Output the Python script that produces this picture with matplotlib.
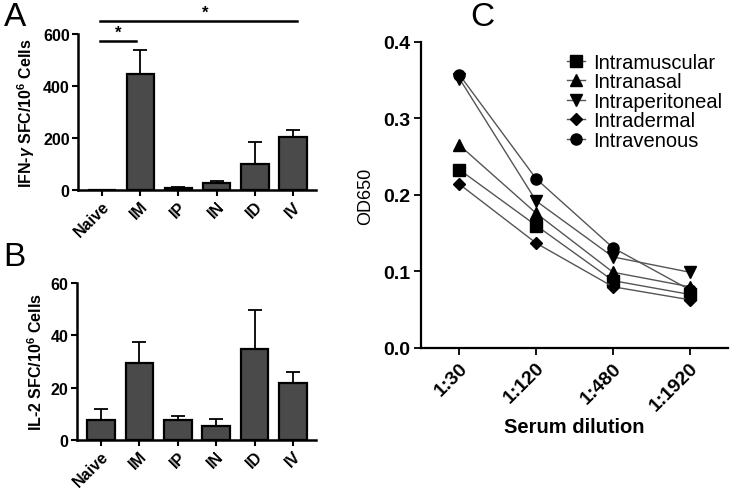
import numpy as np
import matplotlib
matplotlib.use('Agg')
import matplotlib.pyplot as plt

plt.rcParams['font.family'] = ['Liberation Sans', 'DejaVu Sans']
plt.rcParams['mathtext.fontset'] = 'custom'
plt.rcParams['mathtext.rm'] = 'Liberation Sans:bold'
plt.rcParams['mathtext.it'] = 'Liberation Sans:bold:italic'
plt.rcParams['mathtext.bf'] = 'Liberation Sans:bold'

# 数据
groups = ['Naive', 'IM', 'IP', 'IN', 'ID', 'IV']
ifn_mean = [0, 445, 9, 26, 100, 202]
ifn_err = [0, 92, 4, 7, 85, 30]
il2_mean = [7.5, 29.5, 7.5, 5.2, 34.8, 21.8]
il2_err = [4.3, 8.0, 1.7, 2.7, 15.0, 4.2]

dilutions = ['1:30', '1:120', '1:480', '1:1920']
routes = ['Intramuscular', 'Intranasal', 'Intraperitoneal', 'Intradermal', 'Intravenous']
markers = ['s', '^', 'v', 'D', 'o']
od = {
    'Intramuscular':   [0.233, 0.160, 0.088, 0.070],
    'Intranasal':      [0.265, 0.176, 0.099, 0.080],
    'Intraperitoneal': [0.352, 0.192, 0.119, 0.099],
    'Intradermal':     [0.214, 0.137, 0.080, 0.063],
    'Intravenous':     [0.357, 0.221, 0.131, 0.076],
}

fig = plt.figure(figsize=(7.4, 4.89), dpi=100)
ax_a = fig.add_axes([0.1054, 0.6094, 0.3216, 0.319])
ax_b = fig.add_axes([0.1040, 0.0982, 0.3230, 0.321])
ax_c = fig.add_axes([0.569, 0.2863, 0.415, 0.626])


def bar_panel(ax, mean, err, ymax, step, ylabel):
    x = np.arange(len(groups))
    ax.bar(x, mean, width=0.72, color='#4a4a4a', edgecolor='black', linewidth=1.6, zorder=2)
    ax.errorbar(x, mean, yerr=[np.zeros(len(err)), err], fmt='none', ecolor='black',
                elinewidth=1.3, capsize=5, capthick=1.3, zorder=1)
    ax.set_xlim(-0.63, len(groups) - 0.4)
    ax.set_ylim(0, ymax)
    ax.set_yticks(np.arange(0, ymax + 1, step))
    ax.set_xticks(x)
    ax.set_xticklabels(groups, rotation=45, ha='right', rotation_mode='anchor')
    for s in ['top', 'right']:
        ax.spines[s].set_visible(False)
    for s in ['left', 'bottom']:
        ax.spines[s].set_linewidth(1.8)
    ax.tick_params(width=1.5, length=4, labelsize=11.5, pad=2)
    for lab in ax.get_xticklabels() + ax.get_yticklabels():
        lab.set_fontweight('bold')
    ax.set_ylabel(ylabel, fontsize=11.5, fontweight='bold', labelpad=4)


bar_panel(ax_a, ifn_mean, ifn_err, 600, 200, r'IFN-$\mathit{\gamma}$ SFC/10$^{6}$ Cells')
bar_panel(ax_b, il2_mean, il2_err, 60, 20, r'IL-2 SFC/10$^{6}$ Cells')

# 显著性标记
ax_a.plot([-0.05, 0.9], [573, 573], color='black', lw=1.8, clip_on=False)
ax_a.text(0.42, 578, '*', ha='center', va='bottom', fontsize=12, fontweight='bold')
ax_a.plot([-0.05, 5.1], [650, 650], color='black', lw=1.8, clip_on=False)
ax_a.text(2.7, 655, '*', ha='center', va='bottom', fontsize=12, fontweight='bold')

# 折线图
xc = np.arange(len(dilutions))
for r, m in zip(routes, markers):
    ms = 6 if m == 'D' else 8
    ax_c.plot(xc, od[r], color='#555555', lw=1, marker=m, markersize=ms,
              markerfacecolor='black', markeredgecolor='black', label=r)
ax_c.set_xlim(-0.5, 3.5)
ax_c.set_ylim(0, 0.4)
ax_c.set_yticks([0.0, 0.1, 0.2, 0.3, 0.4])
ax_c.set_yticklabels(['0.0', '0.1', '0.2', '0.3', '0.4'])
ax_c.set_xticks(xc)
ax_c.set_xticklabels(dilutions, rotation=45, ha='right', rotation_mode='anchor')
for s in ['top', 'right']:
    ax_c.spines[s].set_visible(False)
for s in ['left', 'bottom']:
    ax_c.spines[s].set_linewidth(1.6)
ax_c.tick_params(width=1.3, length=5, labelsize=14, pad=3)
for lab in ax_c.get_xticklabels() + ax_c.get_yticklabels():
    lab.set_fontweight('bold')
ax_c.set_xlabel('Serum dilution', fontsize=14.5, fontweight='bold', labelpad=2)
ax_c.set_ylabel('OD650', fontsize=13, labelpad=6)
ax_c.legend(loc='upper left', bbox_to_anchor=(0.45, 0.99), frameon=False, fontsize=14.5,
            handlelength=0.9, handletextpad=0.4, labelspacing=0.02, borderaxespad=0)

fig.text(0.005, 0.995, 'A', fontsize=24, va='top', ha='left')
fig.text(0.005, 0.505, 'B', fontsize=24, va='top', ha='left')
fig.text(0.635, 0.995, 'C', fontsize=24, va='top', ha='left')

plt.savefig('out.png', dpi=100)
